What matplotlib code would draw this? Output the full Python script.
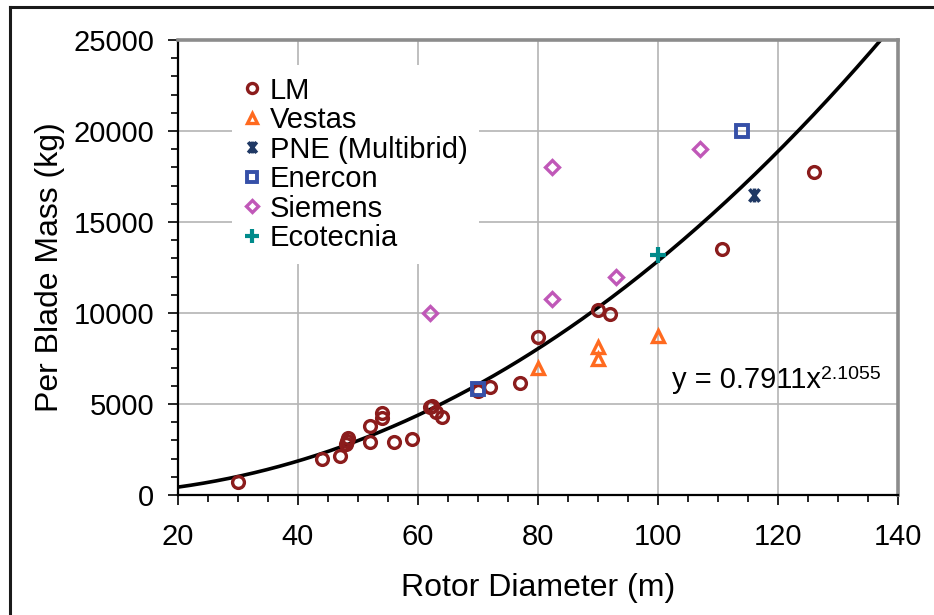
import numpy as np
import matplotlib
matplotlib.use("Agg")
import matplotlib.pyplot as plt
from matplotlib.path import Path
from matplotlib.lines import Line2D
from matplotlib.ticker import MultipleLocator

plt.rcParams['font.family'] = ['Liberation Sans', 'DejaVu Sans']

# ---- data (rotor diameter m, per-blade mass kg) ----
lm_x = [30, 44, 47, 48, 48.1, 48.3, 52, 52, 54, 54, 56, 59, 62, 62.3, 63, 64, 70, 72, 77, 80, 90, 92, 110.6, 126]
lm_y = [700, 2000, 2150, 2800, 2950, 3150, 3800, 2900, 4500, 4250, 2900, 3100, 4850, 4900, 4550, 4300, 5700, 5950, 6150, 8700, 10150, 9950, 13500, 17750]

vestas_x = [80, 90, 90, 100]
vestas_y = [7000, 8150, 7500, 8750]

pne_x = [116]
pne_y = [16500]

enercon_x = [70, 114]
enercon_y = [5850, 20000]

siemens_x = [62, 82.3, 82.3, 93, 107]
siemens_y = [10000, 18000, 10750, 12000, 19000]

ecotecnia_x = [100]
ecotecnia_y = [13200]

fit_a = 0.7911
fit_b = 2.1055

x_ticks = [20, 40, 60, 80, 100, 120, 140]
y_ticks = [0, 5000, 10000, 15000, 20000, 25000]

# ---- figure ----
fig = plt.figure(figsize=(9.34, 6.15), dpi=100)
ax = fig.add_axes([178/934, 1-495/615, 720/934, 455/615])

# grid
ax.set_axisbelow(True)
ax.grid(True, which='major', color='#b4b4b4', lw=1.2)

# trendline
xs = np.linspace(20, 140, 400)
ax.plot(xs, fit_a * xs**fit_b, color='black', lw=2.6, zorder=2)

star = Path([(-0.8, -1), (0.8, 1), (-0.8, 1), (0.8, -1), (0, -1.1), (0, 1.1)],
            [Path.MOVETO, Path.LINETO, Path.MOVETO, Path.LINETO, Path.MOVETO, Path.LINETO])

common = dict(ls='none', zorder=3)
ax.plot(lm_x, lm_y, marker='o', ms=8.5, mfc='none', mec='#8B1C1C', mew=2.4, label='LM', **common)
ax.plot(vestas_x, vestas_y, marker='^', ms=9, mfc='none', mec='#FF6A1F', mew=2.4, label='Vestas', **common)
ax.plot(pne_x, pne_y, marker=star, ms=10, mfc='none', mec='#1F3864', mew=2.6, label='PNE (Multibrid)', **common)
ax.plot(enercon_x, enercon_y, marker='s', ms=9, mfc='none', mec='#3650A8', mew=2.8, label='Enercon', **common)
ax.plot(siemens_x, siemens_y, marker='D', ms=7.5, mfc='none', mec='#C058B8', mew=2.4, label='Siemens', **common)
ax.plot(ecotecnia_x, ecotecnia_y, marker='+', ms=12, mec='#008B8B', mew=3, label='Ecotecnia', **common)

ax.set_xlim(20, 140)
ax.set_ylim(0, 25000)
ax.set_xticks(x_ticks)
ax.set_yticks(y_ticks)
ax.xaxis.set_minor_locator(MultipleLocator(5))
ax.yaxis.set_minor_locator(MultipleLocator(1000))
ax.tick_params(which='major', direction='out', length=7, width=1.2, color='black', labelsize=21)
ax.tick_params(axis='x', which='major', pad=13)
ax.tick_params(axis='y', which='major', pad=10)
ax.tick_params(which='minor', direction='out', length=5, width=1.2, color='black')

for s in ['left', 'bottom']:
    ax.spines[s].set_color('black')
    ax.spines[s].set_linewidth(1.6)
for s in ['top', 'right']:
    ax.spines[s].set_color('#8c8c8c')
    ax.spines[s].set_linewidth(2.6)

ax.set_xlabel('Rotor Diameter (m)', fontsize=23)
ax.set_ylabel('Per Blade Mass (kg)', fontsize=23)
ax.xaxis.set_label_coords(0.5, -0.172)
ax.yaxis.set_label_coords(-0.157, 0.5)

leg = ax.legend(loc='upper left', bbox_to_anchor=(0.075, 0.945), fontsize=21, frameon=True,
                facecolor='white', edgecolor='none', framealpha=1, fancybox=False,
                labelspacing=0.05, handlelength=0.6, handletextpad=0.3, borderpad=0.4,
                borderaxespad=0, markerscale=0.85)
leg.get_frame().set_linewidth(0)

# equation
t = ax.text(102.3, 5880, 'y = 0.7911x', fontsize=21, ha='left', va='baseline')
ax.annotate('2.1055', xy=(1, 0), xycoords=t, xytext=(0.5, 11), textcoords='offset points',
            fontsize=14, ha='left', va='baseline')

# outer border (left and top edges; others fall outside the picture)
fig.add_artist(Line2D([10/934, 10/934], [0, 1 - 7/615], transform=fig.transFigure,
                      color='#1a1a1a', lw=2.2))
fig.add_artist(Line2D([10/934, 1], [1 - 7/615, 1 - 7/615], transform=fig.transFigure,
                      color='#1a1a1a', lw=2.2))

fig.savefig('out.png', dpi=100)
